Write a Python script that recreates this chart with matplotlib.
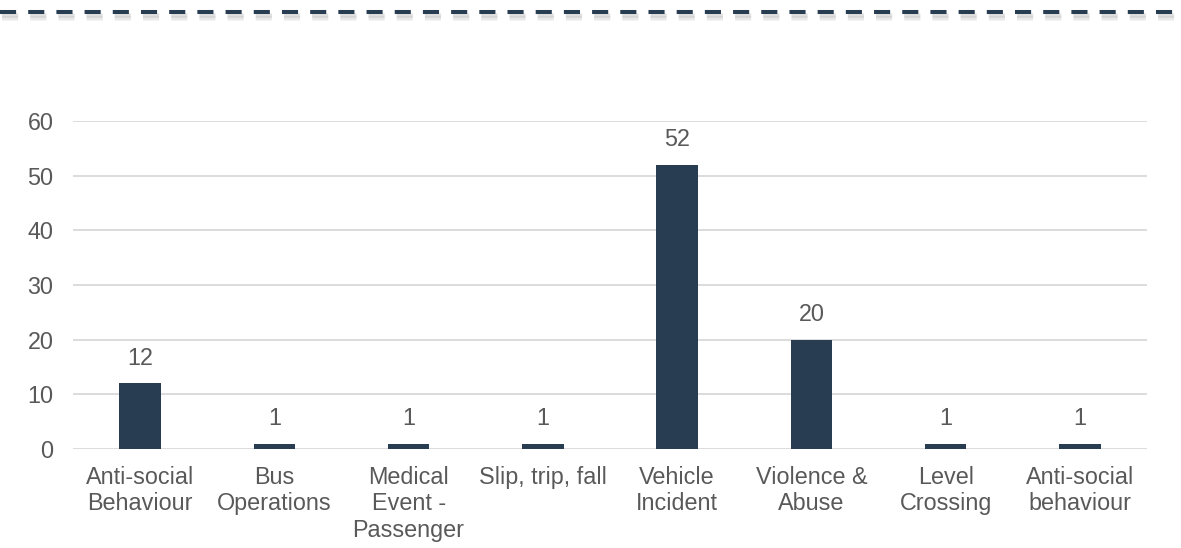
import matplotlib
matplotlib.use("Agg")
import matplotlib.pyplot as plt
from matplotlib import patheffects
from matplotlib.lines import Line2D

categories = ["Anti-social\nBehaviour", "Bus\nOperations", "Medical\nEvent -\nPassenger",
              "Slip, trip, fall", "Vehicle\nIncident", "Violence &\nAbuse",
              "Level\nCrossing", "Anti-social\nbehaviour"]
counts = [12, 1, 1, 1, 52, 20, 1, 1]
y_ticks = [0, 10, 20, 30, 40, 50, 60]

BAR = "#283d52"
TEXT = "#595959"
GRID = "#d9d9d9"
FS = 16.8

plt.rcParams["font.family"] = ["Liberation Sans", "DejaVu Sans"]

W, H = 1181, 548
fig = plt.figure(figsize=(W / 100, H / 100), dpi=100)
ax = fig.add_axes([73 / W, 1 - 449 / H, (1147 - 73) / W, (449 - 121) / H])

x = range(len(categories))
ax.bar(x, counts, width=0.31, color=BAR, zorder=3)
for xi, v in zip(x, counts):
    ax.annotate(str(v), (xi, v), xytext=(0, 10), textcoords="offset points",
                ha="center", va="bottom", fontsize=FS, color=TEXT)

ax.set_xlim(-0.5, len(categories) - 0.5)
ax.set_ylim(0, 60)
ax.set_yticks(y_ticks)
ax.set_xticks(list(x))
ax.set_xticklabels(categories, fontsize=FS, color=TEXT, linespacing=1.2)
ax.tick_params(axis="y", labelsize=FS, labelcolor=TEXT, length=0, pad=14)
ax.tick_params(axis="x", length=0, pad=12)
ax.grid(axis="y", color=GRID, linewidth=1.3, zorder=0)
for s in ax.spines.values():
    s.set_visible(False)
ax.set_axisbelow(True)

# decorative dashed rule across the top, with a soft drop shadow
y_rule = 1 - 12 / H
shadows = [patheffects.SimpleLineShadow(offset=(1.5, -d), shadow_color="#777777", alpha=a)
           for d, a in [(2.0, 0.12), (3.0, 0.12), (4.0, 0.10), (5.0, 0.07)]]
rule = Line2D([0, 1], [y_rule, y_rule], transform=fig.transFigure, color=BAR,
              linewidth=2.9, dashes=(4, 3), dash_capstyle="butt")
rule.set_path_effects(shadows + [patheffects.Normal()])
fig.add_artist(rule)

fig.savefig("out.png", dpi=100)
